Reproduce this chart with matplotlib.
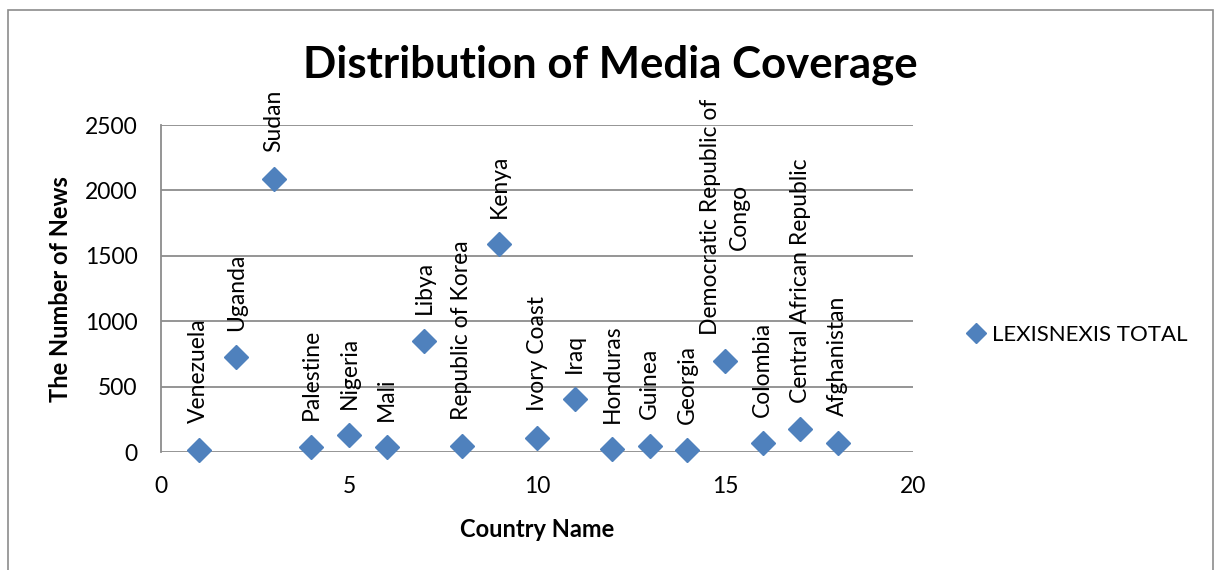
import matplotlib
matplotlib.use("Agg")
import matplotlib.pyplot as plt
from matplotlib.patches import Rectangle
from matplotlib.lines import Line2D

plt.rcParams['font.family'] = ['Lato', 'DejaVu Sans']

countries = ["Venezuela", "Uganda", "Sudan", "Palestine", "Nigeria", "Mali", "Libya",
             "Republic of Korea", "Kenya", "Ivory Coast", "Iraq", "Honduras", "Guinea",
             "Georgia", "Democratic Republic of\nCongo", "Colombia", "Central African Republic",
             "Afghanistan"]
x_index = list(range(1, 19))
news_counts = [20, 725, 2090, 43, 132, 40, 852, 48, 1590, 111, 407, 23, 51, 18, 697, 69, 178, 74]
series_name = "LEXISNEXIS TOTAL"
x_ticks = [0, 5, 10, 15, 20]
y_ticks = [0, 500, 1000, 1500, 2000, 2500]

W, H = 1219, 570
fig = plt.figure(figsize=(W / 100, H / 100), dpi=100)
fig.patches.append(Rectangle((8 / W, -0.1), (1213 - 8) / W, 1.1 - 10 / H, transform=fig.transFigure,
                             fill=False, edgecolor='#8c8c8c', linewidth=1.2))

ax = fig.add_axes([161 / W, 1 - 452.3 / H, (913 - 161) / W, (452.3 - 125) / H])
blue = '#4F81BD'
ax.plot(x_index, news_counts, linestyle='none', marker='D', markersize=12, color=blue,
        markeredgecolor=blue, clip_on=False, zorder=3)
for xi, yi, name in zip(x_index, news_counts, countries):
    ax.annotate(name, (xi, yi), xytext=(0, 19), textcoords='offset points', rotation=90,
                ha='center', va='bottom', multialignment='center', fontsize=16.5, color='black',
                annotation_clip=False, linespacing=1.45)

ax.set_xlim(0, 20)
ax.set_ylim(0, 2500)
ax.set_xticks(x_ticks)
ax.set_yticks(y_ticks)
ax.tick_params(axis='both', length=0, labelsize=16.5, colors='black')
ax.tick_params(axis='x', pad=17)
ax.tick_params(axis='y', pad=17)
ax.grid(axis='y', color='#8c8c8c', linewidth=1.3)
ax.set_axisbelow(True)
for s in ['top', 'right', 'bottom']:
    ax.spines[s].set_visible(False)
ax.spines['left'].set_color('#8c8c8c')
ax.spines['left'].set_linewidth(1.3)

ax.set_xlabel("Country Name", fontsize=17, fontweight='bold', labelpad=15)
ax.set_ylabel("The Number of News", fontsize=17, fontweight='bold', labelpad=9)
fig.text(610 / W, 1 - 65 / H, "Distribution of Media Coverage", fontsize=31.5, fontweight='bold',
         ha='center', va='center')

handle = Line2D([], [], linestyle='none', marker='D', markersize=10, color=blue)
fig.legend([handle], [series_name], loc='center left', bbox_to_anchor=(954 / W, 1 - 335 / H),
           frameon=False, fontsize=16, handletextpad=0.1, handlelength=1.2, borderaxespad=0)

fig.savefig("out.png", dpi=100)
